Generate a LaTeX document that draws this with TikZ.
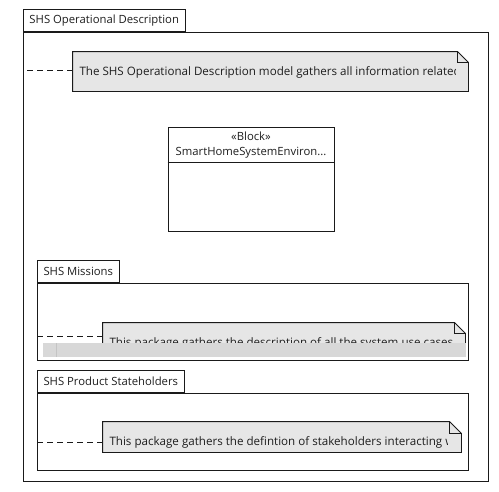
\documentclass[tikz,border=0pt]{standalone}
\usepackage{fontspec}
\setmainfont{Open Sans}
\usetikzlibrary{fit, positioning}
\definecolor{cline}{HTML}{1A1A1A}
\definecolor{cnote}{HTML}{E6E6E6}
\definecolor{cbar}{HTML}{D8D8D8}
\definecolor{cbarline}{HTML}{C4C4C4}
\definecolor{ctxt}{HTML}{1E1E1E}

\begin{document}
\begin{tikzpicture}[x=1pt, y=-1pt, line width=0.9pt,
    frame/.style={draw=cline, fill=white, inner sep=0pt},
    tab/.style={draw=cline, fill=white, anchor=south west, inner xsep=6.5pt, minimum height=22pt, font=\fontsize{11.3}{13}\selectfont\color{ctxt}},
    notebox/.style={inner sep=0pt},
    notefill/.style={draw=cline, fill=cnote},
    notetext/.style={anchor=base west, inner sep=0pt, font=\fontsize{11.6}{13}\selectfont\color{ctxt}},
    anchorline/.style={draw=cline, dash pattern=on 6pt off 4pt}]
    \useasboundingbox (0,0) rectangle (499,491);
    % outer package
    \node[frame, fit={(23,32) (488,481)}] (ops) {};
    \node[tab] (opstab) at (ops.north west) {SHS Operational Description};
    % comment note
    \node[notebox, fit={(73,52) (468,91)}] (n1) {};
    \draw[notefill] (n1.south west) |- ([xshift=-11pt]n1.north east) -- ([yshift=-11pt]n1.north east) |- cycle;
    \draw[cline] ([xshift=-11pt]n1.north east) |- ([yshift=-11pt]n1.north east);
    \begin{scope}
        \clip (n1.south west) rectangle ([xshift=-13pt]n1.north east);
        \node[notetext] at ([xshift=6.5pt, yshift=-23.5pt]n1.north west) {The SHS Operational Description model gathers all information related};
    \end{scope}
    % block
    \node[frame, fit={(168,127) (334,231)}] (blk) {};
    \node[anchor=base, inner sep=0pt, font=\fontsize{11.3}{13}\selectfont\color{ctxt}] (blkst) at ([yshift=-14pt]blk.north) {«Block»};
    \node[anchor=base, inner sep=0pt, font=\fontsize{11.3}{13}\selectfont\color{ctxt}] (blkname) at ([yshift=-29pt]blk.north) {SmartHomeSystemEnviron...};
    \draw[cline] ([yshift=-36pt]blk.north west) -- ([yshift=-36pt]blk.north east);
    % missions package
    \node[frame, fit={(37,283) (468,360)}] (mis) {};
    \node[tab] (mistab) at (mis.north west) {SHS Missions};
    \node[notebox, fit={(103,323) (465,353)}] (n2) {};
    \draw[notefill] (n2.south west) |- ([xshift=-11pt]n2.north east) -- ([yshift=-11pt]n2.north east) |- cycle;
    \draw[cline] ([xshift=-11pt]n2.north east) |- ([yshift=-11pt]n2.north east);
    \begin{scope}
        \clip (n2.south west) rectangle ([xshift=-13pt]n2.north east);
        \node[notetext] at ([xshift=6.5pt, yshift=-24pt]n2.north west) {This package gathers the description of all the system use cases};
    \end{scope}
    \fill[cbar] (43,343) rectangle (466,357);
    \draw[cbarline, line width=0.6pt] (56,343) -- (56,357);
    % stakeholders package
    \node[frame, fit={(37,393) (468,470)}] (stk) {};
    \node[tab] (stktab) at (stk.north west) {SHS Product Stateholders};
    \node[notebox, fit={(103,422) (461,452)}] (n3) {};
    \draw[notefill] (n3.south west) |- ([xshift=-12pt]n3.north east) -- ([yshift=-12pt]n3.north east) |- cycle;
    \draw[cline] ([xshift=-12pt]n3.north east) |- ([yshift=-12pt]n3.north east);
    \begin{scope}
        \clip (n3.south west) rectangle ([xshift=-14pt]n3.north east);
        \node[notetext] at ([xshift=6.5pt, yshift=-24pt]n3.north west) {This package gathers the defintion of stakeholders interacting with};
    \end{scope}
    % note anchors
    \coordinate (a1) at (23,70);
    \coordinate (a2) at (37,336);
    \coordinate (a3) at (37,442);
    \foreach \i in {1,2,3} \draw[anchorline] (a\i -| n\i.west) -- (a\i);
\end{tikzpicture}
\end{document}
